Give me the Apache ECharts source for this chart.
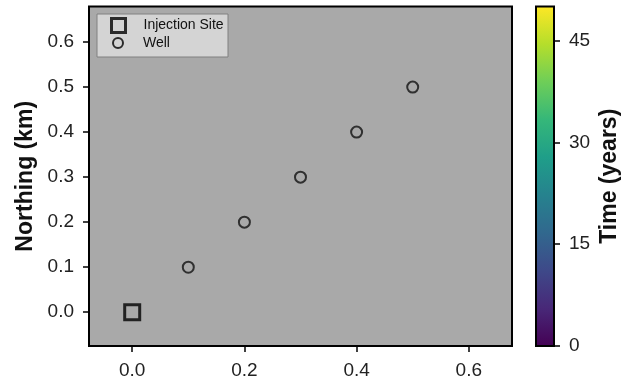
<!DOCTYPE html>
<html>
<head>
<meta charset="utf-8">
<script src="https://cdn.jsdelivr.net/npm/echarts@6/dist/echarts.min.js"></script>
<style>
html,body{margin:0;padding:0;background:#fff;}
#chart{width:622px;height:383px;}
</style>
</head>
<body>
<div id="chart"></div>
<script>
// Data
const injectionX = [0.0];
const injectionY = [0.0];
const wellX = [0.1, 0.2, 0.3, 0.4, 0.5];
const wellY = [0.1, 0.2, 0.3, 0.4, 0.5];
const xTicks = [0.0, 0.2, 0.4, 0.6];
const yTicks = [0.0, 0.1, 0.2, 0.3, 0.4, 0.5, 0.6];
const timeRange = [0, 50];
const timeTicks = [0, 15, 30, 45];
const viridis = ['#440154','#482878','#3e4989','#31688e','#26828e','#1f9e89','#35b779','#6ece58','#b5de2b','#fde725'];

const FONT = 'Liberation Sans, Arial, sans-serif';
const chart = echarts.init(document.getElementById('chart'), null, {renderer: 'canvas'});

const gradStops = viridis.map((c, i) => ({offset: 1 - i / (viridis.length - 1), color: c}));
const tickStyle = {color: '#000', width: 1.5};

chart.setOption({
  animation: false,
  backgroundColor: '#ffffff',
  textStyle: {fontFamily: FONT},
  grid: [
    {left: 89, right: 110, top: 6.5, bottom: 37, show: true, backgroundColor: '#a9a9a9', borderColor: '#000', borderWidth: 2, z: 0},
    {left: 536, right: 68, top: 6.5, bottom: 37, show: true, backgroundColor: 'transparent', borderColor: '#000', borderWidth: 2, z: 5}
  ],
  graphic: [
    {type: 'rect', left: 96.5, top: 13.5, z: 10,
     shape: {width: 131, height: 43},
     style: {fill: 'rgba(255,255,255,0.5)', stroke: '#808080', lineWidth: 1}}
  ],
  xAxis: [
    {
      type: 'value', gridIndex: 0, min: -0.077, max: 0.677,
      splitLine: {show: false},
      axisLine: {show: false, onZero: false},
      axisTick: {show: true, inside: false, length: 6, lineStyle: tickStyle, customValues: xTicks},
      axisLabel: {color: '#222', fontSize: 19, margin: 15, fontFamily: FONT, customValues: xTicks, formatter: v => v.toFixed(1)}
    },
    {
      type: 'category', gridIndex: 1, data: ['t'], show: false
    }
  ],
  yAxis: [
    {
      type: 'value', gridIndex: 0, min: -0.075, max: 0.679,
      splitLine: {show: false},
      axisLine: {show: false, onZero: false},
      axisTick: {show: true, inside: false, length: 6, lineStyle: tickStyle, customValues: yTicks},
      axisLabel: {color: '#222', fontSize: 19, margin: 15, fontFamily: FONT, customValues: yTicks, formatter: v => v.toFixed(1)},
      name: 'Northing (km)', nameLocation: 'middle', nameGap: 52, nameRotate: 90,
      nameTextStyle: {fontSize: 23, fontWeight: 'bold', color: '#111', fontFamily: FONT}
    },
    {
      type: 'value', gridIndex: 1, position: 'right', min: timeRange[0], max: timeRange[1],
      splitLine: {show: false},
      axisLine: {show: false, onZero: false},
      axisTick: {show: true, inside: false, length: 6, lineStyle: tickStyle, customValues: timeTicks},
      axisLabel: {color: '#222', fontSize: 19, margin: 15, fontFamily: FONT, customValues: timeTicks},
      name: 'Time (years)', nameLocation: 'middle', nameGap: 44, nameRotate: 90,
      nameTextStyle: {fontSize: 23, fontWeight: 'bold', color: '#111', fontFamily: FONT}
    }
  ],
  legend: [
    {
      left: 110, top: 17, padding: 0, z: 11,
      itemWidth: 14, itemHeight: 14,
      textStyle: {fontSize: 14, lineHeight: 16, color: '#111', fontFamily: FONT, padding: [0, 0, 0, 13]},
      data: [{name: 'Injection Site', icon: 'rect', itemStyle: {color: 'transparent', borderColor: '#000', borderWidth: 3}}]
    },
    {
      left: 112, top: 35, padding: 0, z: 11,
      itemWidth: 10, itemHeight: 10,
      textStyle: {fontSize: 14, lineHeight: 16, color: '#111', fontFamily: FONT, padding: [0, 0, 0, 15]},
      data: [{name: 'Well', icon: 'circle', itemStyle: {color: 'transparent', borderColor: '#000', borderWidth: 2}}]
    }
  ],
  series: [
    {
      name: 'Injection Site', type: 'scatter', xAxisIndex: 0, yAxisIndex: 0,
      data: injectionX.map((x, i) => [x, injectionY[i]]),
      symbol: 'rect', symbolSize: 15,
      itemStyle: {color: 'transparent', borderColor: '#000', borderWidth: 3}, z: 3
    },
    {
      name: 'Well', type: 'scatter', xAxisIndex: 0, yAxisIndex: 0,
      data: wellX.map((x, i) => [x, wellY[i]]),
      symbol: 'circle', symbolSize: 11,
      itemStyle: {color: 'transparent', borderColor: '#111', borderWidth: 2}, z: 3
    },
    {
      name: 'colorbar', type: 'bar', xAxisIndex: 1, yAxisIndex: 1,
      data: [timeRange[1]], barWidth: '100%', silent: true,
      itemStyle: {color: new echarts.graphic.LinearGradient(0, 0, 0, 1, gradStops)}
    }
  ]
});
</script>
</body>
</html>
